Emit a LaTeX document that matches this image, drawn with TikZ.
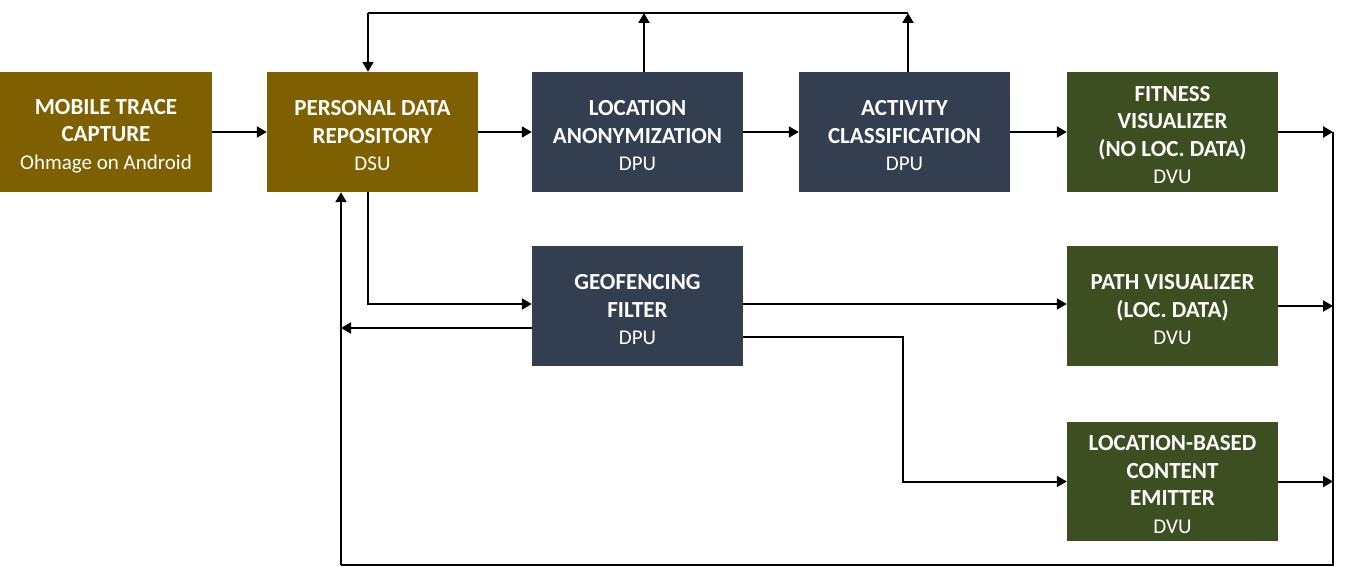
\documentclass[tikz,border=0pt]{standalone}
\usepackage{fontspec}
\setmainfont{Carlito}
\usetikzlibrary{arrows.meta}
\definecolor{gold}{HTML}{7F6000}
\definecolor{slate}{HTML}{333F50}
\definecolor{olivegreen}{HTML}{3D4F21}
\newcommand{\subtxt}[1]{{\fontsize{21}{27.5}\selectfont\mdseries #1}}
\begin{document}
\begin{tikzpicture}[x=1pt,y=-1pt,
  unit/.style={rectangle, minimum width=211pt, minimum height=120pt, inner sep=0pt},
  lbl/.style={inner sep=0pt, text=white, align=center, font=\fontsize{23}{27.5}\selectfont\bfseries},
  conn/.style={line width=2pt, black},
  arr/.style={conn, -{Triangle[length=10pt,width=11pt]}}]
\useasboundingbox (0,0) rectangle (1346,567);

\node[unit, fill=gold, minimum width=212pt] (mtc) at (106,132) {};
\node[unit, fill=gold] (pdr) at (372.5,132) {};
\node[unit, fill=slate] (la) at (637.5,132) {};
\node[unit, fill=slate] (ac) at (904.5,132) {};
\node[unit, fill=olivegreen] (fv) at (1172.5,132) {};
\node[unit, fill=slate] (gf) at (637.5,306) {};
\node[unit, fill=olivegreen] (pv) at (1172.5,306) {};
\node[unit, fill=olivegreen, minimum height=119pt] (lbce) at (1172.5,481.5) {};

\node[lbl] (mtc-t) at ([yshift=-4pt]mtc.center) {MOBILE TRACE\\CAPTURE\\\subtxt{Ohmage on Android}};
\node[lbl] (pdr-t) at ([yshift=-4pt]pdr.center) {PERSONAL DATA\\REPOSITORY\\\subtxt{DSU}};
\node[lbl] (la-t) at ([yshift=-4pt]la.center) {LOCATION\\ANONYMIZATION\\\subtxt{DPU}};
\node[lbl] (ac-t) at ([yshift=-4pt]ac.center) {ACTIVITY\\CLASSIFICATION\\\subtxt{DPU}};
\node[lbl] (fv-t) at ([yshift=-3pt]fv.center) {FITNESS\\VISUALIZER\\(NO LOC. DATA)\\\subtxt{DVU}};
\node[lbl] (gf-t) at ([yshift=-4pt]gf.center) {GEOFENCING\\FILTER\\\subtxt{DPU}};
\node[lbl] (pv-t) at ([yshift=-4pt]pv.center) {PATH VISUALIZER\\(LOC. DATA)\\\subtxt{DVU}};
\node[lbl] (lbce-t) at ([yshift=-3pt]lbce.center) {LOCATION-BASED\\CONTENT\\EMITTER\\\subtxt{DVU}};

% main chain
\draw[arr] (mtc) -- (pdr);
\draw[arr] (pdr) -- (la);
\draw[arr] (la) -- (ac);
\draw[arr] (ac) -- (fv);

% top feedback
\coordinate (tl) at (368,13);
\coordinate (tla) at (644,13);
\coordinate (tac) at (908,13);
\draw[conn] (tl) -- (tac);
\draw[arr] (la.north -| tla) -- (tla);
\draw[arr] (ac.north -| tac) -- (tac);
\draw[arr] (tl) -- (pdr.north -| tl);

% right bus and bottom return
\coordinate (bus) at (1333,565);
\coordinate (bl) at (341,565);
\draw[arr] (fv) -- (fv -| bus);
\draw[arr] (pv) -- (pv -| bus);
\draw[arr] (lbce) -- (lbce -| bus);
\draw[conn] (fv -| bus) -- (bus) -- (bl);
\draw[arr] (bl) -- (pdr.south -| bl);

% geofencing branch
\coordinate (pg) at (368,304);
\draw[arr] (pdr.south -| pg) -- (pg) -- (gf.west |- pg);
\coordinate (gb) at (341,328);
\draw[arr] (gf.west |- gb) -- (gb);
\draw[arr] (gf.east |- pg) -- (pv.west |- pg);
\coordinate (gk) at (903,337);
\draw[arr] (gf.east |- gk) -- (gk) -- (gk |- lbce) -- (lbce.west);
\end{tikzpicture}
\end{document}
